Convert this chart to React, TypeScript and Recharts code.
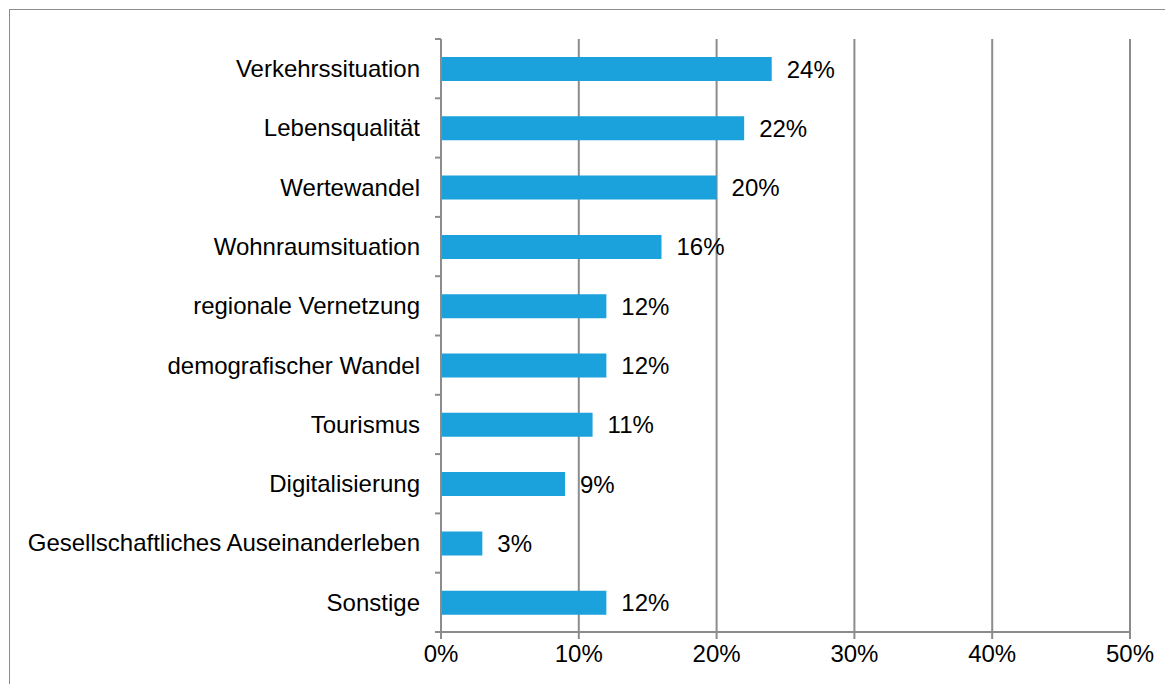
import { BarChart, Bar, XAxis, YAxis, CartesianGrid, LabelList } from "recharts";

const categories = [
  "Verkehrssituation",
  "Lebensqualität",
  "Wertewandel",
  "Wohnraumsituation",
  "regionale Vernetzung",
  "demografischer Wandel",
  "Tourismus",
  "Digitalisierung",
  "Gesellschaftliches Auseinanderleben",
  "Sonstige",
];
const shares = [24, 22, 20, 16, 12, 12, 11, 9, 3, 12];
const xTicks = [0, 10, 20, 30, 40, 50];

const data = categories.map((name, i) => ({ name, value: shares[i] }));

const W = 1164;
const H = 675;
const MARGIN = { top: 29, right: 44, bottom: 0, left: 0 };
const X_AXIS_H = 53;
const Y_AXIS_W = 431;
const FONT = "'Liberation Sans', Arial, sans-serif";
const FS = 24;
const GRID = "#8c8c8c";
const BAR = "#1ba1db";

const Y_TICK = 6;
const Y_MARGIN = 15;
// band height of one category row
const band = (H - MARGIN.top - MARGIN.bottom - X_AXIS_H) / categories.length;

function CategoryTick(props: any) {
  const { x, y, payload, index } = props;
  const axisX = x + Y_TICK + Y_MARGIN;
  const last = index === categories.length - 1;
  return (
    <g>
      <line x1={axisX - Y_TICK} x2={axisX} y1={y - band / 2} y2={y - band / 2} stroke={GRID} strokeWidth={2} />
      {last && (
        <line x1={axisX - Y_TICK} x2={axisX} y1={y + band / 2} y2={y + band / 2} stroke={GRID} strokeWidth={2} />
      )}
      <text x={x} y={y} dy="0.35em" textAnchor="end" fill="#000" fontSize={FS} fontFamily={FONT}>
        {payload.value}
      </text>
    </g>
  );
}

export default function App() {
  return (
    <div
      style={{
        marginTop: 1,
        marginLeft: 1,
        width: 1200,
        height: 720,
        border: `1px solid ${GRID}`,
        background: "#fff",
      }}
    >
      <BarChart width={W} height={H} data={data} layout="vertical" margin={MARGIN}>
        <CartesianGrid horizontal={false} vertical stroke={GRID} strokeWidth={2} />
        <XAxis
          type="number"
          domain={[0, 50]}
          ticks={xTicks}
          tickFormatter={(v) => `${v}%`}
          height={X_AXIS_H}
          axisLine={{ stroke: GRID, strokeWidth: 2 }}
          tickLine={{ stroke: GRID, strokeWidth: 2 }}
          tickSize={7}
          tickMargin={6}
          tick={{ fill: "#000", fontSize: FS, fontFamily: FONT }}
          interval={0}
        />
        <YAxis
          type="category"
          dataKey="name"
          width={Y_AXIS_W}
          axisLine={{ stroke: GRID, strokeWidth: 2 }}
          tickLine={false}
          tickSize={Y_TICK}
          tickMargin={Y_MARGIN}
          tick={<CategoryTick />}
          interval={0}
        />
        <Bar dataKey="value" fill={BAR} barSize={24} isAnimationActive={false}>
          <LabelList
            dataKey="value"
            position="right"
            offset={15}
            formatter={(v: any) => `${v}%`}
            fill="#000"
            fontSize={FS}
            fontFamily={FONT}
          />
        </Bar>
      </BarChart>
    </div>
  );
}
